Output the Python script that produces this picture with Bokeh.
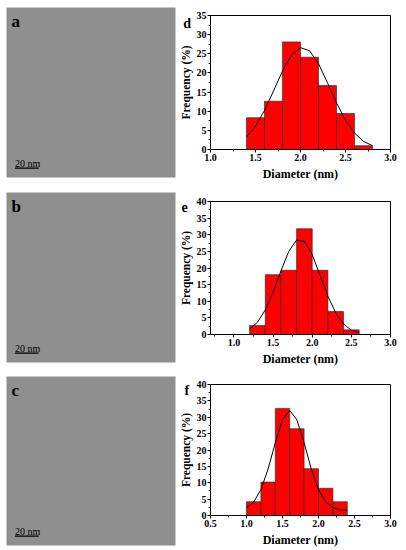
from bokeh.plotting import figure
from bokeh.layouts import row, column
from bokeh.models import Label, SingleIntervalTicker, Range1d, PrintfTickFormatter
from bokeh.embed import file_html
from bokeh.resources import INLINE

SERIF = "Liberation Serif"

# ---- data ----
bin_width = 0.2

d_bin_centers = [1.5, 1.7, 1.9, 2.1, 2.3, 2.5, 2.7]
d_freq = [8.3, 12.6, 28.1, 24.1, 16.7, 9.4, 1.0]
d_fit_x = [1.4, 1.5, 1.6, 1.7, 1.8, 1.9, 2.0, 2.1, 2.2, 2.3, 2.4, 2.5, 2.6, 2.7, 2.8]
d_fit_y = [3.3, 6.1, 10.2, 15.3, 20.5, 24.7, 26.6, 25.8, 22.4, 17.4, 12.2, 7.6, 4.3, 2.1, 1.0]

e_bin_centers = [1.3, 1.5, 1.7, 1.9, 2.1, 2.3, 2.5]
e_freq = [2.7, 18.0, 19.3, 31.8, 19.3, 6.9, 1.4]
e_fit_x = [1.2, 1.3, 1.4, 1.5, 1.6, 1.7, 1.8, 1.9, 2.0, 2.1, 2.2, 2.3, 2.4, 2.5, 2.6]
e_fit_y = [1.6, 3.7, 7.4, 12.7, 19.1, 25.0, 28.4, 28.0, 24.0, 17.8, 11.5, 6.5, 3.2, 1.3, 0.5]

f_bin_centers = [1.1, 1.3, 1.5, 1.7, 1.9, 2.1, 2.3]
f_freq = [4.2, 10.2, 32.7, 26.5, 14.3, 8.3, 4.2]
f_fit_x = [1.0, 1.1, 1.2, 1.3, 1.4, 1.5, 1.6, 1.7, 1.8, 1.9, 2.0, 2.1, 2.2, 2.3, 2.4]
f_fit_y = [2.4, 4.1, 7.9, 14.2, 22.2, 29.2, 32.1, 29.2, 22.2, 14.2, 7.9, 4.1, 2.4, 1.75, 1.55]

x_label = "Diameter (nm)"
y_label = "Frequency (%)"
scale_text = "20 nm"


def tem_panel(letter, height, mbt, mbb):
    p = figure(width=176, height=height, x_range=Range1d(0, 1), y_range=Range1d(0, 1),
               min_border_left=6, min_border_right=1, min_border_top=mbt,
               min_border_bottom=mbb, background_fill_color="#8f8f8f",
               border_fill_color="white", outline_line_color=None,
               x_axis_location=None, y_axis_location=None,
               toolbar_location=None, output_backend="svg")
    p.xgrid.visible = False
    p.ygrid.visible = False
    p.add_layout(Label(x=0.03, y=0.975, text=letter, text_align="left", text_baseline="top",
                       text_font=SERIF, text_font_style="bold", text_font_size="17px",
                       text_color="black"))
    p.add_layout(Label(x=0.05, y=0.085, text=scale_text, text_align="left",
                       text_baseline="alphabetic", text_font=SERIF, text_font_size="10px",
                       text_color="black"))
    p.segment(x0=[0.05], y0=[0.055], x1=[0.19], y1=[0.055], line_color="black", line_width=1.3)
    return p


def hist_panel(letter, centers, freq, fx, fy, xr, yr, height, mbl, mbr, mbt, mbb, lx, ly):
    p = figure(width=228, height=height, x_range=Range1d(*xr), y_range=Range1d(*yr),
               min_border_left=mbl, min_border_right=mbr, min_border_top=mbt,
               min_border_bottom=mbb, toolbar_location=None, output_backend="svg",
               outline_line_color="black", outline_line_width=1,
               background_fill_color="white", border_fill_color="white")
    p.vbar(x=centers, width=bin_width, top=freq, bottom=0, fill_color="#ff0000",
           line_color="#222222", line_width=0.6)
    p.line(fx, fy, line_color="black", line_width=1)
    p.xgrid.visible = False
    p.ygrid.visible = False
    p.xaxis.ticker = SingleIntervalTicker(interval=0.5, num_minor_ticks=2)
    p.xaxis.formatter = PrintfTickFormatter(format="%.1f")
    p.yaxis.ticker = SingleIntervalTicker(interval=5, num_minor_ticks=2)
    p.xaxis.axis_label = x_label
    p.yaxis.axis_label = y_label
    for ax in (p.xaxis, p.yaxis):
        ax.major_label_text_font = SERIF
        ax.major_label_text_font_style = "bold"
        ax.major_label_text_font_size = "10px"
        ax.major_label_text_color = "black"
        ax.axis_label_text_font = SERIF
        ax.axis_label_text_font_style = "bold"
        ax.axis_label_text_color = "black"
        ax.major_tick_in = 0
        ax.major_tick_out = 3
        ax.minor_tick_in = 0
        ax.minor_tick_out = 2
        ax.major_label_standoff = 1
        ax.axis_line_color = "black"
        ax.major_tick_line_color = "black"
        ax.minor_tick_line_color = "black"
    p.xaxis.axis_label_text_font_size = "12px"
    p.yaxis.axis_label_text_font_size = "11.5px"
    p.xaxis.axis_label_standoff = 3
    p.yaxis.axis_label_standoff = 2
    p.add_layout(Label(x=lx, y=ly, text=letter, text_align="center", text_baseline="alphabetic",
                       text_font=SERIF, text_font_style="bold", text_font_size="14px",
                       text_line_height=1.0, text_color="black"), "above")
    return p


pa = tem_panel("a", 192, 7, 15)
pb = tem_panel("b", 184, 0, 14)
pc = tem_panel("c", 173, 0, 4)

pd = hist_panel("d", d_bin_centers, d_freq, d_fit_x, d_fit_y, (1.0, 3.0), (0, 35),
                186, 32, 10, 14, 37, 0.74, 32.9)
pe = hist_panel("e", e_bin_centers, e_freq, e_fit_x, e_fit_y, (0.7, 3.0), (0, 40),
                182, 34, 14, 15, 34, 0.37, 38.2)
pf = hist_panel("f", f_bin_centers, f_freq, f_fit_x, f_fit_y, (0.5, 3.0), (0, 40),
                181, 32, 12, 16, 32, 0.17, 38.2)

layout = row(column(pa, pb, pc), column(pd, pe, pf))

open("out.html", "w").write(file_html(layout, INLINE))
